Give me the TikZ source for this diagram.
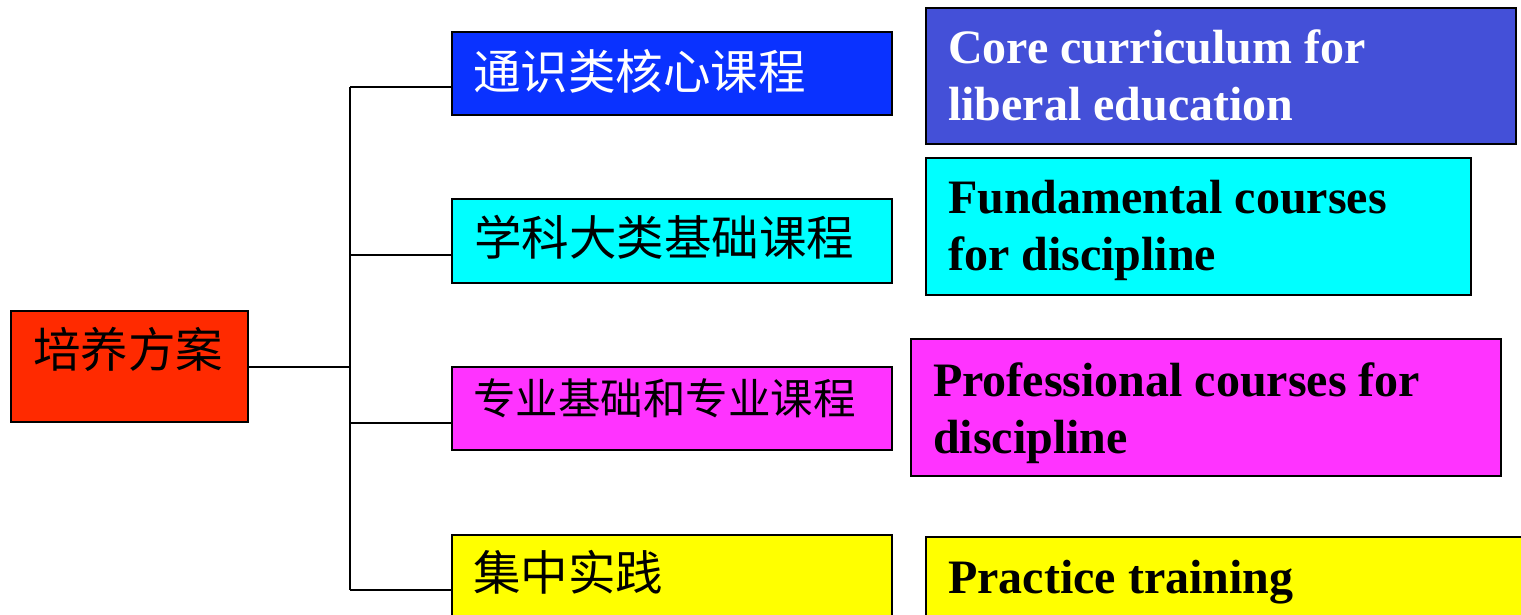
\documentclass[tikz,border=0pt]{standalone}
\usepackage{fontspec}
\setmainfont{Liberation Serif}
\newfontfamily\cjk{Noto Sans CJK SC}
\definecolor{cred}{HTML}{FF2A00}
\definecolor{cblue}{HTML}{0A32FF}
\definecolor{cindigo}{HTML}{4450D8}
\definecolor{ccyan}{HTML}{00FFFF}
\definecolor{cmag}{HTML}{FF33FF}
\definecolor{cyel}{HTML}{FFFF00}
\begin{document}
\begin{tikzpicture}[x=1pt,y=-1pt,
  box/.style={draw=black,line width=1.6pt},
  cn/.style={anchor=base west,inner sep=0pt,font=\cjk\fontsize{47.5}{50}\selectfont},
  en/.style={anchor=base west,inner sep=0pt,align=left,font=\bfseries\fontsize{48}{57}\selectfont},
  conn/.style={draw=black,line width=2pt}]
\useasboundingbox (0,0) rectangle (1521,614);
% boxes
\path[box,fill=cred] (11,311) rectangle (248,422);
\coordinate (rootE) at (248,367);
\path[box,fill=cblue] (452,32) rectangle (892,115);
\path[box,fill=ccyan] (452,199) rectangle (892,283);
\path[box,fill=cmag] (452,367) rectangle (892,450);
\path[box,fill=cyel] (452,535) rectangle (892,630);
\path[box,fill=cindigo] (926,8) rectangle (1516,144);
\path[box,fill=ccyan] (926,158) rectangle (1471,295);
\path[box,fill=cmag] (911,339) rectangle (1501,476);
\path[box,fill=cyel] (926,537) rectangle (1530,630);
% texts
\node[cn] (root) at (33,367) {培养方案};
\node[cn,text=white] (a1) at (473,89) {通识类核心课程};
\node[cn] (a2) at (474,255) {学科大类基础课程};
\node[cn,font=\cjk\fontsize{42.5}{46}\selectfont] (a3) at (473,414) {专业基础和专业课程};
\node[cn] (a4) at (473,590) {集中实践};
\node[en,text=white] (b1) at (948,120) {Core curriculum for\\liberal education};
\node[en] (b2) at (948,270) {Fundamental courses\\for discipline};
\node[en] (b3) at (933,453) {Professional courses for\\discipline};
\node[en] (b4) at (948,593) {Practice training};
% connectors
\coordinate (j) at (350,367);
\coordinate (j1) at (350,87);
\coordinate (j2) at (350,255);
\coordinate (j3) at (350,423);
\coordinate (j4) at (350,590);
\coordinate (l1) at (452,87);
\coordinate (l2) at (452,255);
\coordinate (l3) at (452,423);
\coordinate (l4) at (452,590);
\draw[conn] (rootE) -- (j);
\draw[conn] (j1) -- (j4);
\draw[conn] (j1) -- (l1);
\draw[conn] (j2) -- (l2);
\draw[conn] (j3) -- (l3);
\draw[conn] (j4) -- (l4);
\end{tikzpicture}
\end{document}
